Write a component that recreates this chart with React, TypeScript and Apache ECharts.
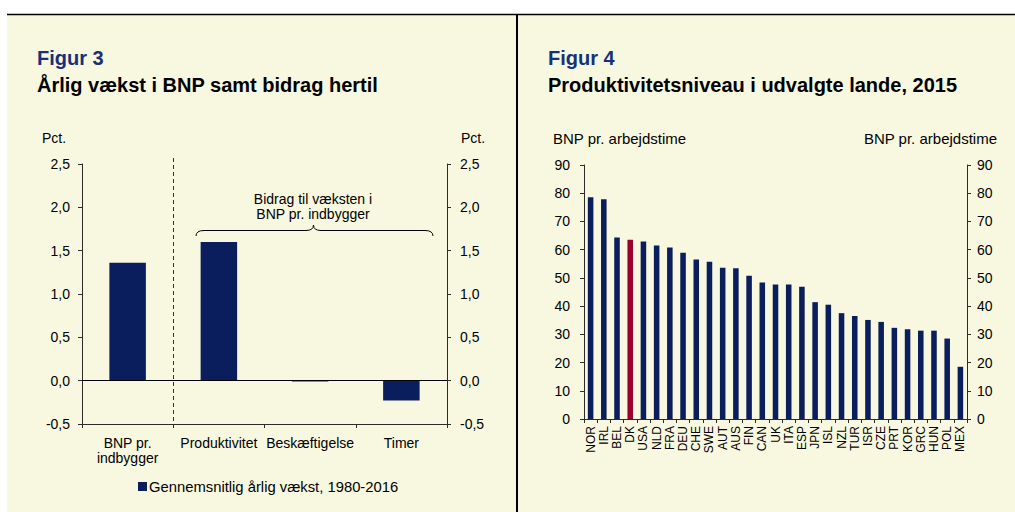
import React, { useEffect, useRef } from 'react';
import * as echarts from 'echarts';

const growthCategories = ['BNP pr.\nindbygger', 'Produktivitet', 'Beskæftigelse', 'Timer'];
const growthValues = [1.36, 1.6, -0.01, -0.23];
const growthSeriesName = 'Gennemsnitlig årlig vækst, 1980-2016';

const countries = ['NOR', 'IRL', 'BEL', 'DK', 'USA', 'NLD', 'FRA', 'DEU', 'CHE', 'SWE', 'AUT', 'AUS', 'FIN', 'CAN', 'UK', 'ITA', 'ESP', 'JPN', 'ISL', 'NZL', 'TUR', 'ISR', 'CZE', 'PRT', 'KOR', 'GRC', 'HUN', 'POL', 'MEX'];
const productivity = [78.6, 77.9, 64.3, 63.5, 62.9, 61.5, 60.8, 58.9, 56.5, 55.7, 53.6, 53.4, 50.8, 48.4, 47.7, 47.7, 46.9, 41.4, 40.5, 37.5, 36.5, 35.1, 34.4, 32.3, 31.8, 31.3, 31.3, 28.5, 18.5];
const highlightCountry = 'DK';

const FONT = '"Liberation Sans", Arial, Helvetica, sans-serif';
const NAVY = '#0a1d5c';
const RED = '#99002e';
const CREAM = '#f8f8e1';
const AXIS = '#2b2b2b';

const braceD = 'M196,236 Q196,230.5 204,230.5 L306,230.5 Q313.5,230.5 313.5,225 Q313.5,230.5 321,230.5 L425,230.5 Q433,230.5 433,236';

export default function App() {
  const ref = useRef<HTMLDivElement>(null);
  useEffect(() => {
    document.body.style.margin = '0';
    try {
      echarts.graphic.registerShape('brace', echarts.graphic.extendPath(braceD, {}));
    } catch (e) {}
    const chart = echarts.init(ref.current!, undefined, { renderer: 'svg' });
    const commaFmt = (v: number) => v.toFixed(1).replace('.', ',');
    const text = (t: string, x: number, y: number, extra: any = {}) => ({
      type: 'text',
      z: 10,
      style: { text: t, x, y, fontFamily: FONT, fontSize: 14, fill: '#000', verticalAlign: 'middle', align: 'left', ...extra },
    });
    chart.setOption({
      animation: false,
      backgroundColor: '#ffffff',
      textStyle: { fontFamily: FONT },
      graphic: [
        { type: 'rect', z: -100, shape: { x: 7, y: 14, width: 1008, height: 498 }, style: { fill: CREAM } },
        { type: 'line', z: 10, shape: { x1: 7, y1: 14.5, x2: 1015, y2: 14.5 }, style: { stroke: '#000', lineWidth: 1.5 } },
        { type: 'line', z: 10, shape: { x1: 517, y1: 14, x2: 517, y2: 512 }, style: { stroke: '#000', lineWidth: 2 } },
        text('Figur 3', 37, 58, { fontSize: 20, fontWeight: 'bold', fill: '#17307a' }),
        text('Årlig vækst i BNP samt bidrag hertil', 37, 85, { fontSize: 20, fontWeight: 'bold' }),
        text('Figur 4', 548, 58, { fontSize: 20, fontWeight: 'bold', fill: '#17307a' }),
        text('Produktivitetsniveau i udvalgte lande, 2015', 548, 85, { fontSize: 20, fontWeight: 'bold' }),
        text('Pct.', 42, 138),
        text('Pct.', 461, 138),
        text('BNP pr. arbejdstime', 553, 138, { fontSize: 15 }),
        text('BNP pr. arbejdstime', 997, 138, { align: 'right', fontSize: 15 }),
        text('Bidrag til væksten i\nBNP pr. indbygger', 313, 206, { align: 'center', lineHeight: 15 }),
        { type: 'line', z: 10, shape: { x1: 173.5, y1: 158, x2: 173.5, y2: 424 }, style: { stroke: '#333', lineWidth: 1, lineDash: [4, 3] } },
        { type: 'brace', z: 10, x: 0, y: 0, style: { fill: 'none', stroke: '#000', lineWidth: 1 } },
      ],
      legend: {
        data: [growthSeriesName],
        left: 138,
        top: 479,
        padding: 0,
        icon: 'rect',
        itemWidth: 9,
        itemHeight: 9,
        itemGap: 4,
        textStyle: { fontFamily: FONT, fontSize: 14.8, color: '#000', padding: [0, 0, 0, -3] },
      },
      grid: [
        { left: 82, right: 568, top: 164, bottom: 88 },
        { left: 584, right: 48, top: 165, bottom: 93 },
      ],
      xAxis: [
        {
          type: 'category', gridIndex: 0, data: growthCategories,
          axisLine: { onZero: false, lineStyle: { color: AXIS } },
          axisTick: { show: true, length: 4, interval: 0, lineStyle: { color: AXIS } },
          axisLabel: { interval: 0, margin: 11, fontSize: 14, color: '#000', lineHeight: 15, fontFamily: FONT },
        },
        {
          type: 'category', gridIndex: 1, data: countries,
          axisLine: { lineStyle: { color: AXIS } },
          axisTick: { show: true, length: 4, interval: 0, lineStyle: { color: AXIS } },
          axisLabel: { interval: 0, rotate: 90, margin: 7, fontSize: 12, color: '#000', fontFamily: FONT },
        },
      ],
      yAxis: [
        {
          type: 'value', gridIndex: 0, min: -0.5, max: 2.5, interval: 0.5, position: 'left',
          axisLine: { show: true, lineStyle: { color: AXIS } },
          axisTick: { show: true, length: 4, lineStyle: { color: AXIS } },
          splitLine: { show: false },
          axisLabel: { formatter: commaFmt, margin: 12, fontSize: 14, color: '#000', fontFamily: FONT },
        },
        {
          type: 'value', gridIndex: 0, min: -0.5, max: 2.5, interval: 0.5, position: 'right',
          axisLine: { show: true, lineStyle: { color: AXIS } },
          axisTick: { show: true, length: 4, lineStyle: { color: AXIS } },
          splitLine: { show: false },
          axisLabel: { formatter: commaFmt, margin: 13, fontSize: 14, color: '#000', fontFamily: FONT },
        },
        {
          type: 'value', gridIndex: 1, min: 0, max: 90, interval: 10, position: 'left',
          axisLine: { show: true, lineStyle: { color: AXIS } },
          axisTick: { show: true, length: 4, lineStyle: { color: AXIS } },
          splitLine: { show: false },
          axisLabel: { margin: 14, fontSize: 14, color: '#000', fontFamily: FONT },
        },
        {
          type: 'value', gridIndex: 1, min: 0, max: 90, interval: 10, position: 'right',
          axisLine: { show: true, lineStyle: { color: AXIS } },
          axisTick: { show: true, length: 4, lineStyle: { color: AXIS } },
          splitLine: { show: false },
          axisLabel: { margin: 10, fontSize: 14, color: '#000', fontFamily: FONT },
        },
      ],
      series: [
        {
          name: growthSeriesName,
          type: 'bar', xAxisIndex: 0, yAxisIndex: 0,
          data: growthValues,
          barWidth: '40%',
          itemStyle: { color: NAVY },
          markLine: {
            silent: true, symbol: 'none', label: { show: false },
            lineStyle: { color: '#000', type: 'solid', width: 1 },
            data: [{ yAxis: 0 }],
          },
        },
        {
          name: 'BNP pr. arbejdstime',
          type: 'bar', xAxisIndex: 1, yAxisIndex: 2,
          data: productivity.map((v, i) => ({ value: v, itemStyle: { color: countries[i] === highlightCountry ? RED : NAVY } })),
          barWidth: '42%',
        },
      ],
    });
    return () => chart.dispose();
  }, []);
  return <div ref={ref} style={{ width: 1015, height: 512 }} />;
}
